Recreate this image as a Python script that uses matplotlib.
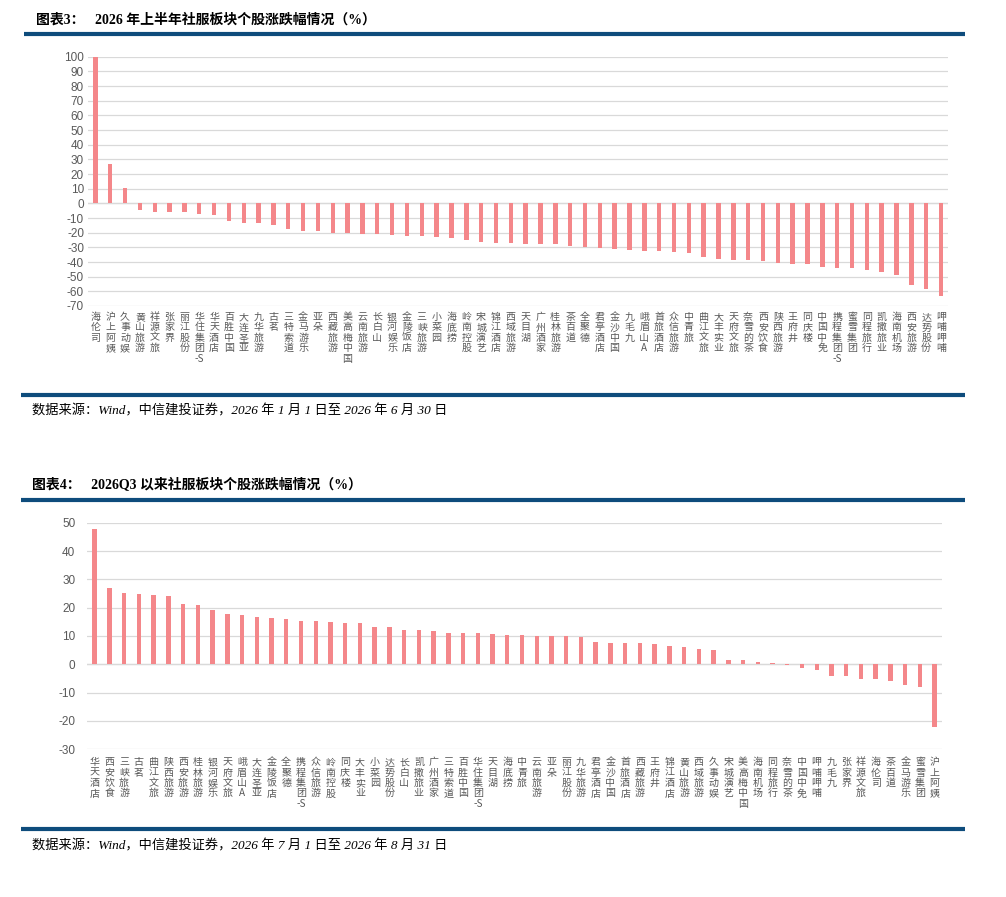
import re
import matplotlib
matplotlib.use("Agg")
import matplotlib.pyplot as plt
from matplotlib.lines import Line2D

plt.rcParams['font.family'] = ['Noto Sans CJK SC', 'DejaVu Sans']

# ---------------- data ----------------
names_h1 = ["海伦司", "沪上阿姨", "久事动娱", "黄山旅游", "祥源文旅", "张家界", "丽江股份", "华住集团-S",
            "华天酒店", "百胜中国", "大连圣亚", "九华旅游", "古茗", "三特索道", "金马游乐", "亚朵",
            "西藏旅游", "美高梅中国", "云南旅游", "长白山", "银河娱乐", "金陵饭店", "三峡旅游", "小菜园",
            "海底捞", "岭南控股", "宋城演艺", "锦江酒店", "西域旅游", "天目湖", "广州酒家", "桂林旅游",
            "茶百道", "全聚德", "君亭酒店", "金沙中国", "九毛九", "峨眉山A", "首旅酒店", "众信旅游",
            "中青旅", "曲江文旅", "大丰实业", "天府文旅", "奈雪的茶", "西安饮食", "陕西旅游", "王府井",
            "同庆楼", "中国中免", "携程集团-S", "蜜雪集团", "同程旅行", "凯撒旅业", "海南机场", "西安旅游",
            "达势股份", "呷哺呷哺"]
values_h1 = [100, 27, 10.2, -4.3, -5.7, -6.0, -6.0, -7.5,
             -7.7, -11.8, -13.2, -13.6, -15.0, -17.7, -18.9, -19.0,
             -20.0, -20.0, -20.7, -20.7, -21.4, -22.0, -22.5, -23.0,
             -23.4, -25.2, -26.1, -26.8, -26.8, -27.5, -27.5, -28.0,
             -29.1, -29.5, -30.2, -30.9, -31.6, -32.3, -32.7, -33.2,
             -33.6, -36.4, -38.2, -38.6, -38.6, -39.3, -40.5, -41.1,
             -41.1, -43.2, -44.1, -44.3, -45.7, -46.8, -48.6, -55.5,
             -58.4, -63.2]

names_q3 = ["华天酒店", "西安饮食", "三峡旅游", "古茗", "曲江文旅", "陕西旅游", "西安旅游", "桂林旅游",
            "银河娱乐", "天府文旅", "峨眉山A", "大连圣亚", "金陵饭店", "全聚德", "携程集团-S", "众信旅游",
            "岭南控股", "同庆楼", "大丰实业", "小菜园", "达势股份", "长白山", "凯撒旅业", "广州酒家",
            "三特索道", "百胜中国", "华住集团-S", "天目湖", "海底捞", "中青旅", "云南旅游", "亚朵",
            "丽江股份", "九华旅游", "君亭酒店", "金沙中国", "首旅酒店", "西藏旅游", "王府井", "锦江酒店",
            "黄山旅游", "西域旅游", "久事动娱", "宋城演艺", "美高梅中国", "海南机场", "同程旅行", "奈雪的茶",
            "中国中免", "呷哺呷哺", "九毛九", "张家界", "祥源文旅", "海伦司", "茶百道", "金马游乐",
            "蜜雪集团", "沪上阿姨"]
values_q3 = [47.8, 26.9, 25.2, 24.8, 24.5, 24.1, 21.3, 20.9,
             19.1, 17.6, 17.3, 16.6, 16.4, 16.0, 15.3, 15.3,
             14.9, 14.6, 14.6, 13.2, 13.1, 12.0, 12.0, 11.8,
             11.2, 11.1, 10.9, 10.7, 10.4, 10.4, 10.0, 10.0,
             10.0, 9.5, 7.8, 7.5, 7.5, 7.5, 7.3, 6.5,
             6.1, 5.4, 4.9, 1.5, 1.4, 0.8, 0.5, -0.1,
             -1.4, -2.0, -4.0, -4.2, -5.1, -5.1, -5.8, -7.2,
             -8.2, -22.2]

yticks_h1 = list(range(-70, 101, 10))
yticks_q3 = list(range(-30, 51, 10))

title1 = "图表3：   2026 年上半年社服板块个股涨跌幅情况（%）"
title2 = "图表4：   2026Q3 以来社服板块个股涨跌幅情况（%）"
source1 = "数据来源：Wind，中信建投证券，2026 年 1 月 1 日至 2026 年 6 月 30 日"
source2 = "数据来源：Wind，中信建投证券，2026 年 7 月 1 日至 2026 年 8 月 31 日"

# ---------------- styles ----------------
W, H = 1006, 897
BAR = '#F4878A'
GRID = '#D9D9D9'
TXT = '#595959'
BLUE = '#0E4C7C'
SERIF_CJK = ['Liberation Serif', 'Noto Sans CJK SC']
PT = 72 / 100  # points per pixel at dpi 100

fig = plt.figure(figsize=(W / 100, H / 100), dpi=100)


def px_axes(left, top, right, bottom):
    return fig.add_axes([left / W, 1 - bottom / H, (right - left) / W, (bottom - top) / H])


def hline(y, x0=22, x1=965, lw=3.0):
    fig.add_artist(Line2D([x0 / W, x1 / W], [1 - y / H, 1 - y / H], color=BLUE, lw=lw,
                          transform=fig.transFigure, solid_capstyle='butt'))


def stack(s):
    # one CJK character per line, latin runs such as "-S" kept together
    parts = re.findall(r'[A-Za-z0-9\-]+|.', s)
    return "\n".join(parts)


def draw(ax, names, values, yticks, ypad_px, xpad_px):
    x = list(range(len(names)))
    ax.bar(x, values, width=0.3, color=BAR, zorder=3)
    ax.set_xlim(-0.5, len(names) - 0.5)
    ax.set_ylim(yticks[0], yticks[-1])
    ax.set_yticks(yticks)
    ax.set_yticklabels([str(v) for v in yticks], family=['Liberation Sans', 'DejaVu Sans'],
                       fontsize=8.5, color=TXT)
    for v in yticks:
        ax.axhline(v, color=GRID, lw=0.9, zorder=1)
    ax.axhline(0, color=GRID, lw=0.9, zorder=2)
    ax.set_xticks(x)
    ax.set_xticklabels([stack(n) for n in names], fontsize=7.2, color=TXT,
                       linespacing=1.05, va='top')
    ax.tick_params(axis='x', length=0, pad=xpad_px * PT)
    ax.tick_params(axis='y', length=0, pad=ypad_px * PT)
    for sp in ax.spines.values():
        sp.set_visible(False)
    ax.patch.set_alpha(0)


# chart 1
ax1 = px_axes(88, 56.7, 948.4, 306)
draw(ax1, names_h1, values_h1, yticks_h1, ypad_px=4, xpad_px=6)

# chart 2
ax2 = px_axes(87.3, 522.7, 942, 749.2)
draw(ax2, names_q3, values_q3, yticks_q3, ypad_px=12, xpad_px=8)

# titles, rules and sources
fig.text(36 / W, 1 - 20 / H, title1, fontsize=10, fontweight='bold', family=SERIF_CJK,
         va='center', ha='left', color='black')
hline(34.5, x0=24)
hline(395, x0=21)
fig.text(32 / W, 1 - 411 / H, source1, fontsize=9.5, style='italic', family=SERIF_CJK,
         va='center', ha='left', color='black')
fig.text(32 / W, 1 - 485 / H, title2, fontsize=10, fontweight='bold', family=SERIF_CJK,
         va='center', ha='left', color='black')
hline(500, x0=21)
hline(829, x0=21)
fig.text(32 / W, 1 - 846 / H, source2, fontsize=9.5, style='italic', family=SERIF_CJK,
         va='center', ha='left', color='black')

fig.savefig("out.png", dpi=100, facecolor='white')
